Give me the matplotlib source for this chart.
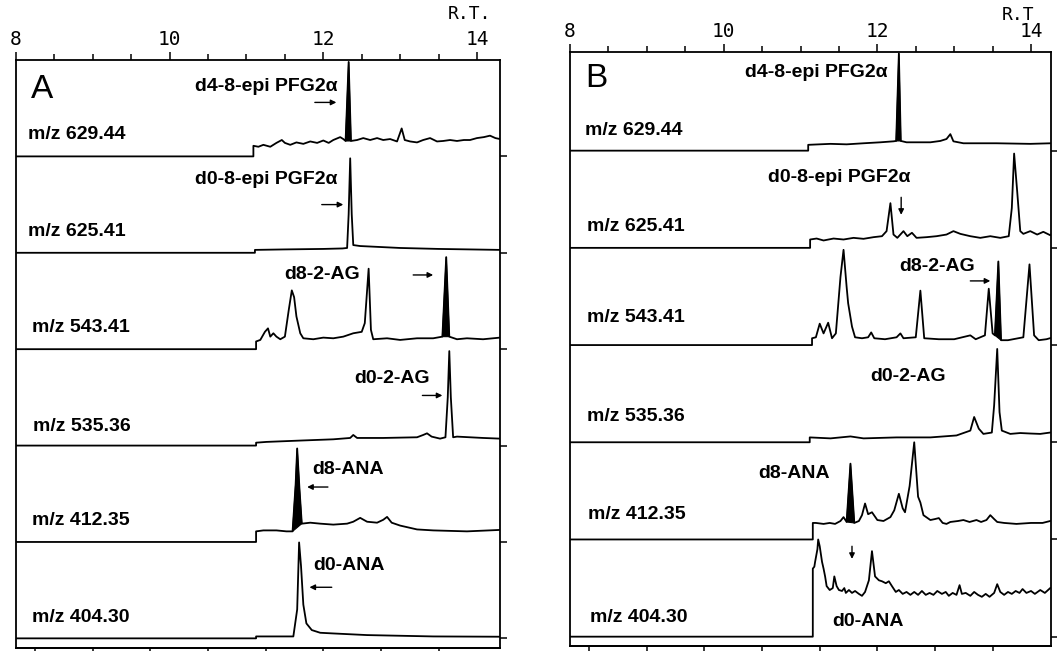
import matplotlib.pyplot as plt

# Chromatogram traces: (retention time [min], height in row units)
# panel A
a_629 = [(8.0, 0), (11.09, 0), (11.09, 0.11), (11.155, 0.10), (11.22, 0.12), (11.31, 0.10), (11.39, 0.14),
         (11.46, 0.17), (11.50, 0.14), (11.57, 0.12), (11.65, 0.145), (11.74, 0.13), (11.83, 0.155),
         (11.92, 0.14), (12.00, 0.165), (12.07, 0.14), (12.13, 0.17), (12.22, 0.20), (12.26, 0.18),
         (12.29, 0.16), (12.33, 0.98), (12.36, 0.16), (12.44, 0.17), (12.52, 0.19), (12.61, 0.17),
         (12.70, 0.19), (12.78, 0.17), (12.87, 0.18), (12.96, 0.155), (13.02, 0.29), (13.06, 0.17),
         (13.13, 0.155), (13.22, 0.145), (13.30, 0.17), (13.39, 0.19), (13.48, 0.155), (13.56, 0.16),
         (13.65, 0.17), (13.74, 0.16), (13.83, 0.17), (13.91, 0.17), (14.00, 0.19), (14.09, 0.20),
         (14.17, 0.215), (14.24, 0.19), (14.30, 0.18)]
a_625 = [(8.0, 0), (11.11, 0), (11.11, 0.03), (11.5, 0.035), (12.0, 0.04), (12.25, 0.045), (12.31, 0.05),
         (12.33, 0.4), (12.35, 0.98), (12.37, 0.4), (12.39, 0.08), (12.48, 0.07), (13.0, 0.05),
         (13.5, 0.04), (14.3, 0.03)]
a_543 = [(8.0, 0), (11.125, 0), (11.125, 0.08), (11.18, 0.096), (11.24, 0.18), (11.28, 0.216), (11.31, 0.13),
         (11.35, 0.165), (11.39, 0.13), (11.44, 0.103), (11.50, 0.13), (11.55, 0.405), (11.59, 0.61),
         (11.62, 0.54), (11.65, 0.34), (11.70, 0.165), (11.74, 0.113), (11.87, 0.103), (12.00, 0.12),
         (12.13, 0.113), (12.26, 0.13), (12.39, 0.165), (12.50, 0.18), (12.54, 0.27), (12.59, 0.835),
         (12.62, 0.2), (12.65, 0.103), (12.83, 0.113), (13.0, 0.096), (13.22, 0.113), (13.43, 0.113),
         (13.55, 0.13), (13.60, 0.955), (13.64, 0.13), (13.74, 0.103), (13.87, 0.113), (14.08, 0.103),
         (14.30, 0.12)]
a_535 = [(8.0, 0), (11.125, 0), (11.125, 0.03), (11.26, 0.038), (11.70, 0.052), (12.13, 0.065), (12.35, 0.079),
         (12.39, 0.11), (12.44, 0.079), (12.78, 0.079), (13.22, 0.086), (13.30, 0.11), (13.35, 0.127),
         (13.41, 0.093), (13.52, 0.072), (13.59, 0.086), (13.62, 0.5), (13.64, 0.98), (13.66, 0.5),
         (13.69, 0.086), (13.74, 0.093), (14.08, 0.079), (14.30, 0.072)]
a_412 = [(8.0, 0), (11.125, 0), (11.125, 0.11), (11.22, 0.12), (11.39, 0.12), (11.52, 0.11), (11.60, 0.11),
         (11.64, 0.6), (11.66, 0.97), (11.69, 0.55), (11.72, 0.19), (11.83, 0.2), (11.96, 0.19),
         (12.13, 0.18), (12.31, 0.19), (12.39, 0.21), (12.48, 0.25), (12.57, 0.21), (12.70, 0.2),
         (12.78, 0.23), (12.83, 0.26), (12.89, 0.2), (13.0, 0.17), (13.22, 0.13), (13.43, 0.12),
         (13.87, 0.11), (14.30, 0.125)]
a_404 = [(8.0, 0), (11.125, 0), (11.125, 0.02), (11.61, 0.02), (11.66, 0.3), (11.685, 0.995), (11.71, 0.75),
         (11.74, 0.35), (11.78, 0.155), (11.85, 0.086), (11.96, 0.058), (12.13, 0.051), (12.57, 0.034),
         (13.0, 0.027), (13.43, 0.02), (14.30, 0.017)]

# panel B
b_629 = [(8.0, 0), (11.10, 0), (11.10, 0.06), (11.39, 0.07), (11.60, 0.065), (11.82, 0.076), (12.04, 0.086),
         (12.21, 0.096), (12.245, 0.10), (12.28, 1.0), (12.305, 0.10), (12.38, 0.086), (12.69, 0.086),
         (12.82, 0.10), (12.90, 0.12), (12.95, 0.17), (12.99, 0.096), (13.12, 0.076), (13.55, 0.076),
         (13.99, 0.07), (14.26, 0.076)]
b_625 = [(8.0, 0), (11.125, 0), (11.125, 0.086), (11.21, 0.096), (11.30, 0.076), (11.43, 0.096), (11.56, 0.086),
         (11.69, 0.103), (11.82, 0.093), (11.95, 0.11), (12.06, 0.12), (12.12, 0.172), (12.17, 0.46),
         (12.21, 0.137), (12.26, 0.103), (12.34, 0.172), (12.39, 0.12), (12.45, 0.155), (12.51, 0.103),
         (12.64, 0.11), (12.77, 0.12), (12.90, 0.137), (12.99, 0.172), (13.08, 0.144), (13.21, 0.12),
         (13.34, 0.103), (13.47, 0.12), (13.60, 0.103), (13.71, 0.12), (13.75, 0.41), (13.78, 0.97),
         (13.82, 0.58), (13.86, 0.172), (13.90, 0.144), (13.99, 0.172), (14.08, 0.137), (14.16, 0.165),
         (14.25, 0.13), (14.31, 0.172)]
b_543 = [(8.0, 0), (11.15, 0), (11.15, 0.07), (11.20, 0.08), (11.25, 0.22), (11.30, 0.12), (11.36, 0.23),
         (11.41, 0.07), (11.46, 0.12), (11.52, 0.70), (11.56, 0.98), (11.60, 0.60), (11.62, 0.43),
         (11.67, 0.19), (11.71, 0.08), (11.80, 0.07), (11.88, 0.08), (11.92, 0.13), (11.96, 0.07),
         (12.10, 0.06), (12.25, 0.08), (12.30, 0.12), (12.34, 0.07), (12.50, 0.08), (12.56, 0.56),
         (12.61, 0.07), (12.80, 0.06), (13.00, 0.06), (13.21, 0.10), (13.28, 0.06), (13.40, 0.10),
         (13.45, 0.58), (13.50, 0.12), (13.53, 0.10), (13.575, 0.86), (13.61, 0.05), (13.70, 0.05),
         (13.90, 0.08), (13.98, 0.83), (14.04, 0.10), (14.10, 0.05), (14.20, 0.06), (14.29, 0.08)]
b_535 = [(8.0, 0), (11.12, 0), (11.12, 0.05), (11.39, 0.04), (11.65, 0.06), (11.82, 0.04), (12.25, 0.05),
         (12.69, 0.05), (13.03, 0.07), (13.21, 0.12), (13.26, 0.26), (13.32, 0.14), (13.38, 0.086),
         (13.49, 0.10), (13.52, 0.38), (13.56, 0.96), (13.59, 0.31), (13.62, 0.12), (13.73, 0.086),
         (13.86, 0.095), (13.99, 0.09), (14.12, 0.086), (14.25, 0.10)]
b_412 = [(8.0, 0), (11.16, 0), (11.16, 0.17), (11.20, 0.17), (11.30, 0.16), (11.38, 0.17), (11.45, 0.16),
         (11.52, 0.19), (11.56, 0.23), (11.60, 0.18), (11.65, 0.78), (11.70, 0.17), (11.76, 0.19),
         (11.80, 0.25), (11.84, 0.37), (11.88, 0.26), (11.93, 0.28), (12.0, 0.20), (12.08, 0.19),
         (12.17, 0.23), (12.22, 0.30), (12.28, 0.47), (12.33, 0.32), (12.36, 0.28), (12.42, 0.55),
         (12.48, 1.0), (12.53, 0.44), (12.56, 0.38), (12.60, 0.25), (12.69, 0.20), (12.75, 0.21),
         (12.80, 0.22), (12.85, 0.17), (12.90, 0.16), (12.95, 0.18), (13.05, 0.19), (13.12, 0.20),
         (13.20, 0.18), (13.29, 0.20), (13.35, 0.18), (13.42, 0.20), (13.47, 0.25), (13.52, 0.21),
         (13.56, 0.18), (13.65, 0.17), (13.81, 0.16), (14.0, 0.17), (14.15, 0.17), (14.25, 0.19)]
b_404 = [(8.0, 0), (11.16, 0), (11.16, 0.70), (11.18, 0.72), (11.19, 0.77), (11.22, 0.90), (11.23, 1.0),
         (11.25, 0.93), (11.28, 0.77), (11.30, 0.70), (11.32, 0.62), (11.34, 0.52), (11.38, 0.48),
         (11.42, 0.50), (11.44, 0.62), (11.47, 0.52), (11.50, 0.48), (11.54, 0.47), (11.57, 0.50),
         (11.59, 0.45), (11.63, 0.48), (11.67, 0.45), (11.71, 0.47), (11.76, 0.44), (11.80, 0.42),
         (11.84, 0.46), (11.89, 0.58), (11.93, 0.88), (11.97, 0.62), (12.02, 0.58), (12.06, 0.57),
         (12.11, 0.55), (12.15, 0.57), (12.19, 0.52), (12.24, 0.46), (12.28, 0.48), (12.33, 0.44),
         (12.38, 0.46), (12.43, 0.43), (12.48, 0.46), (12.53, 0.43), (12.58, 0.47), (12.63, 0.43),
         (12.68, 0.45), (12.73, 0.43), (12.78, 0.47), (12.84, 0.44), (12.89, 0.46), (12.93, 0.42),
         (12.98, 0.45), (13.03, 0.43), (13.07, 0.53), (13.10, 0.44), (13.15, 0.45), (13.21, 0.42),
         (13.26, 0.46), (13.31, 0.43), (13.36, 0.41), (13.41, 0.44), (13.46, 0.41), (13.52, 0.45),
         (13.56, 0.54), (13.60, 0.46), (13.65, 0.43), (13.70, 0.46), (13.75, 0.44), (13.80, 0.47),
         (13.85, 0.45), (13.89, 0.49), (13.94, 0.45), (14.0, 0.47), (14.05, 0.44), (14.12, 0.48),
         (14.18, 0.45), (14.25, 0.50)]

ions = ["m/z 629.44", "m/z 625.41", "m/z 543.41", "m/z 535.36", "m/z 412.35", "m/z 404.30"]
traces_a = [a_629, a_625, a_543, a_535, a_412, a_404]
traces_b = [b_629, b_625, b_543, b_535, b_412, b_404]
# blackened (internal standard) peaks: row index -> rt range
filled_a = {0: (12.29, 12.36), 2: (13.55, 13.64), 4: (11.60, 11.72)}
filled_b = {0: (12.245, 12.305), 2: (13.53, 13.61), 4: (11.60, 11.70)}

# compound labels: text, rt, row position, alignment
labels_a = [("d4-8-epi PFG2\u03b1", 12.19, 5.72, "right"), ("d0-8-epi PGF2\u03b1", 12.18, 4.76, "right"),
            ("d8-2-AG", 12.48, 3.77, "right"), ("d0-2-AG", 13.39, 2.70, "right"),
            ("d8-ANA", 11.85, 1.75, "left"), ("d0-ANA", 11.87, 0.76, "left")]
labels_b = [("d4-8-epi PFG2\u03b1", 12.14, 5.80, "right"), ("d0-8-epi PGF2\u03b1", 12.43, 4.72, "right"),
            ("d8-2-AG", 13.27, 3.81, "right"), ("d0-2-AG", 11.91, 2.68, "left"),
            ("d8-ANA", 10.45, 1.68, "left"), ("d0-ANA", 11.41, 0.16, "left")]
ion_pos_a = [(8.16, 5.23), (8.16, 4.22), (8.21, 3.23), (8.22, 2.20), (8.21, 1.22), (8.21, 0.22)]
ion_pos_b = [(8.20, 5.21), (8.22, 4.22), (8.22, 3.28), (8.22, 2.27), (8.23, 1.26), (8.26, 0.20)]
# arrows: (rt from, row from, rt to, row to)
arrows_a = [(11.89, 5.56, 12.17, 5.56), (11.98, 4.50, 12.26, 4.50), (13.17, 3.77, 13.43, 3.77),
            (13.29, 2.52, 13.55, 2.52), (12.06, 1.57, 11.79, 1.57), (12.11, 0.53, 11.82, 0.53)]
arrows_b = [(12.31, 4.52, 12.31, 4.34), (13.21, 3.66, 13.47, 3.66), (11.67, 0.93, 11.67, 0.80)]

top_ticks = [8, 10, 12, 14]
bottom_ticks = [8.25, 9.0, 9.75, 10.5, 11.25, 12.0, 12.75, 13.5]

fig = plt.figure(figsize=(10.57, 6.51), dpi=100)
axA = fig.add_axes([16 / 1057, 1 - 648 / 651, 484 / 1057, 588 / 651])
axB = fig.add_axes([570 / 1057, 1 - 646 / 651, 481 / 1057, 594 / 651])

panels = [
    (axA, "A", traces_a, filled_a, labels_a, ion_pos_a, arrows_a, 14.30, -0.10, 6.0, 5.69, "R.T.", 1.078),
    (axB, "B", traces_b, filled_b, labels_b, ion_pos_b, arrows_b, 14.26, -0.096, 6.015, 5.74, "R.T", 1.062),
]

for ax, letter, traces, filled, labels, ion_pos, arrows, xmax, ymin, ymax, ly, rt_txt, rt_y in panels:
    n = len(traces)
    for i, tr in enumerate(traces):
        off = n - 1 - i
        xs = [p[0] for p in tr]
        ys = [p[1] + off for p in tr]
        ax.plot(xs, ys, color="black", lw=1.3, solid_joinstyle="round")
        if i in filled:
            lo, hi = filled[i]
            pts = [p for p in tr if lo <= p[0] <= hi]
            ax.fill([p[0] for p in pts], [p[1] + off for p in pts], color="black", lw=0.8)
    for txt, x, y, ha in labels:
        ax.text(x, y, txt, ha=ha, va="center", fontsize=14, fontweight="bold",
                family=["Liberation Sans", "DejaVu Sans"])
    for (x, y), txt in zip(ion_pos, ions):
        ax.text(x, y, txt, ha="left", va="center", fontsize=14, fontweight="bold",
                family="Liberation Sans")
    for x0, y0, x1, y1 in arrows:
        ax.annotate("", xy=(x1, y1), xytext=(x0, y0),
                    arrowprops=dict(arrowstyle="-|>", lw=1.0, color="black", mutation_scale=8,
                                    shrinkA=0, shrinkB=0))
    ax.text(8.2, ly, letter, ha="left", va="center", fontsize=24, family="Liberation Sans")

    ax.set_xlim(8, xmax)
    ax.set_ylim(ymin, ymax)
    for s in ax.spines.values():
        s.set_linewidth(1.3)

    # top scale in minutes
    ax.xaxis.set_ticks_position("top")
    ax.set_xticks(top_ticks)
    ax.set_xticklabels([str(t) for t in top_ticks], family="DejaVu Sans Mono", fontsize=14)
    ax.set_xticks([8 + 0.5 * k for k in range(13)], minor=True)
    ax.tick_params(axis="x", which="major", direction="out", length=6, width=1.1, pad=2)
    ax.tick_params(axis="x", which="minor", direction="out", length=4, width=1.1)
    ax.text(13.62, rt_y, rt_txt, transform=ax.get_xaxis_transform(), ha="left", va="center",
            family="DejaVu Sans Mono", fontsize=13)

    # scan ticks along the bottom edge
    sec = ax.secondary_xaxis("bottom")
    sec.set_xticks(bottom_ticks)
    sec.set_xticklabels([])
    sec.tick_params(direction="out", length=8, width=1.1)
    sec.spines["bottom"].set_linewidth(1.3)

    # row markers on the right edge
    ax.yaxis.set_ticks_position("right")
    ax.set_yticks(range(n))
    ax.set_yticklabels([])
    ax.tick_params(axis="y", direction="out", length=5, width=1.1)

fig.savefig("out.png", dpi=100)
